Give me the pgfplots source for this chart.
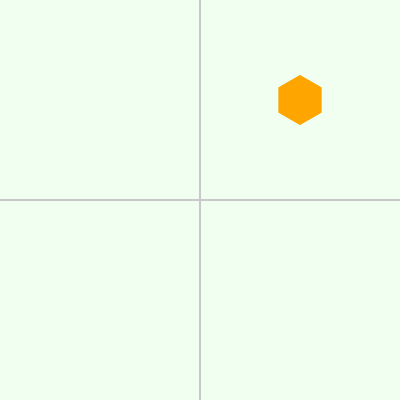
\documentclass[border=0pt]{standalone}
\usepackage{pgfplots}
\pgfplotsset{compat=1.18}
\definecolor{bg}{HTML}{F0FFF0}
\definecolor{ln}{HTML}{C8C8C8}
\definecolor{hx}{HTML}{FFA500}
\pgfdeclareplotmark{hexagon}{%
  \pgfpathmoveto{\pgfqpointpolar{90}{\pgfplotmarksize}}%
  \pgfpathlineto{\pgfqpointpolar{150}{\pgfplotmarksize}}%
  \pgfpathlineto{\pgfqpointpolar{210}{\pgfplotmarksize}}%
  \pgfpathlineto{\pgfqpointpolar{270}{\pgfplotmarksize}}%
  \pgfpathlineto{\pgfqpointpolar{330}{\pgfplotmarksize}}%
  \pgfpathlineto{\pgfqpointpolar{30}{\pgfplotmarksize}}%
  \pgfpathclose\pgfusepathqfill}
\begin{document}
\begin{tikzpicture}
\begin{axis}[scale only axis,width=400pt,height=400pt,xmin=0,xmax=400,ymin=0,ymax=400,
  axis line style={draw=none},ticks=none,axis background/.style={fill=bg}]
\addplot[ln,line width=1.5pt] coordinates {(200,0) (200,400)};
\addplot[ln,line width=1.5pt] coordinates {(0,200) (400,200)};
\addplot[only marks,mark=hexagon,mark size=25pt,color=hx] coordinates {(300,300)};
\end{axis}
\end{tikzpicture}
\end{document}
